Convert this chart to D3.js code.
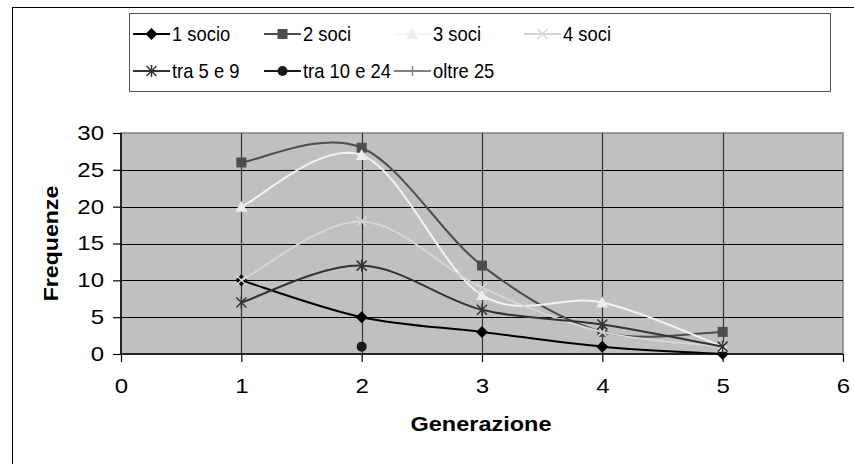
<!DOCTYPE html>
<html>
<head>
<meta charset="utf-8">
<script src="https://cdn.jsdelivr.net/npm/d3@7"></script>
<style>
  html, body { margin: 0; padding: 0; background: #fff; }
  svg { display: block; font-family: "Liberation Sans", Arial, sans-serif; }
</style>
</head>
<body>
<svg id="chart" width="854" height="464"></svg>
<script>
// Generazione (x) and frequency of firms by number of partners
const generazioni = [1, 2, 3, 4, 5];
const seriesNames = ["1 socio", "2 soci", "3 soci", "4 soci", "tra 5 e 9", "tra 10 e 24", "oltre 25"];
const socio1   = [10, 5, 3, 1, 0];
const soci2    = [26, 28, 12, 3, 3];
const soci3    = [20, 27, 8, 7, 1];
const soci4    = [10, 18, 9, 3, 1];
const tra5e9   = [7, 12, 6, 4, 1];
const tra10e24 = [null, 1, null, null, null];
const oltre25  = [null, null, null, null, null];
const xTicks = [0, 1, 2, 3, 4, 5, 6];
const yTicks = [0, 5, 10, 15, 20, 25, 30];

const seriesValues = [socio1, soci2, soci3, soci4, tra5e9, tra10e24, oltre25];
const seriesStyle = [
  { stroke: "#000000", marker: "diamond",  fill: "#000000" },
  { stroke: "#4d4d4d", marker: "square",   fill: "#4d4d4d" },
  { stroke: "#f2f2f2", marker: "triangle", fill: "#ececec" },
  { stroke: "#d6d6d6", marker: "cross",    fill: "#d6d6d6" },
  { stroke: "#333333", marker: "star",     fill: "#333333" },
  { stroke: "#1a1a1a", marker: "circle",   fill: "#1a1a1a" },
  { stroke: "#808080", marker: "plus",     fill: "#808080" }
];

const svg = d3.select("#chart");
const plot = { left: 121, right: 843, top: 133, bottom: 354 };

const x = d3.scaleLinear().domain([0, 6]).range([plot.left, plot.right]);
const y = d3.scaleLinear().domain([0, 30]).range([plot.bottom, plot.top]);

// Spreadsheet-style smoothing: cubic Bézier through every point, tangents from neighbours
function SmoothCurve(context) { this._context = context; }
SmoothCurve.prototype = {
  areaStart() {}, areaEnd() {},
  lineStart() { this._pts = []; },
  point(px, py) { this._pts.push([+px, +py]); },
  lineEnd() {
    const p = this._pts, n = p.length, c = this._context;
    if (!n) return;
    c.moveTo(p[0][0], p[0][1]);
    for (let i = 0; i < n - 1; i++) {
      const p0 = p[Math.max(i - 1, 0)], p1 = p[i], p2 = p[i + 1], p3 = p[Math.min(i + 2, n - 1)];
      c.bezierCurveTo(
        p1[0] + (p2[0] - p0[0]) / 6, p1[1] + (p2[1] - p0[1]) / 6,
        p2[0] - (p3[0] - p1[0]) / 6, p2[1] - (p3[1] - p1[1]) / 6,
        p2[0], p2[1]);
    }
  }
};
const curveSmooth = ctx => new SmoothCurve(ctx);

// Outer chart frame (right and bottom edges fall outside the view)
svg.append("rect")
  .attr("x", 12.5).attr("y", 7.5).attr("width", 900).attr("height", 500)
  .attr("fill", "#fff").attr("stroke", "#000").attr("stroke-width", 1);

// Plot background
svg.append("rect")
  .attr("x", plot.left).attr("y", plot.top)
  .attr("width", plot.right - plot.left).attr("height", plot.bottom - plot.top)
  .attr("fill", "#c0c0c0").attr("stroke", "#808080").attr("stroke-width", 1.5);

// Grid lines
svg.append("g").selectAll("line").data(yTicks.slice(1, -1)).join("line")
  .attr("x1", plot.left).attr("x2", plot.right)
  .attr("y1", d => Math.round(y(d)) + 0.5).attr("y2", d => Math.round(y(d)) + 0.5)
  .attr("stroke", "#000").attr("stroke-width", 1.2);
svg.append("g").selectAll("line").data(xTicks.slice(1, -1)).join("line")
  .attr("y1", plot.top).attr("y2", plot.bottom)
  .attr("x1", d => Math.round(x(d)) + 0.5).attr("x2", d => Math.round(x(d)) + 0.5)
  .attr("stroke", "#333").attr("stroke-width", 1.2);

// Axes
const xAxis = d3.axisBottom(x).tickValues(xTicks).tickFormat(d3.format("d")).tickSize(8).tickPadding(17);
const yAxis = d3.axisLeft(y).tickValues(yTicks).tickFormat(d3.format("d")).tickSize(8).tickPadding(9);

const gx = svg.append("g").attr("transform", `translate(0,${plot.bottom})`).call(xAxis);
const gy = svg.append("g").attr("transform", `translate(${plot.left},0)`).call(yAxis);
const tickScale = 1.2;
[gx, gy].forEach(g => {
  g.select(".domain").attr("stroke", "#000").attr("stroke-width", 1.5);
  g.selectAll(".tick line").attr("stroke", "#000").attr("stroke-width", 1.2);
  g.selectAll(".tick text").attr("fill", "#000")
    .style("font-size", "20px").style("font-family", "'Liberation Sans', Arial, sans-serif");
});
// widen the tick digits a little, keeping their anchor points
gy.selectAll(".tick text")
  .attr("x", function() { return +d3.select(this).attr("x") / tickScale; })
  .attr("transform", `scale(${tickScale},1)`);
gx.selectAll(".tick text").attr("transform", `scale(${tickScale},1)`);
gx.select(".domain").attr("d", `M${plot.left},0H${plot.right}`);
gy.select(".domain").attr("d", `M0,${plot.bottom}V${plot.top}`);

// Axis titles
svg.append("text")
  .attr("transform", `translate(${(plot.left + plot.right) / 2 - 1},431) scale(1.12,1)`)
  .attr("text-anchor", "middle").attr("font-weight", "bold").attr("font-size", 21)
  .text("Generazione");
svg.append("text")
  .attr("transform", `translate(58,${(plot.top + plot.bottom) / 2}) rotate(-90) scale(1.1,1)`)
  .attr("text-anchor", "middle").attr("font-weight", "bold").attr("font-size", 21)
  .text("Frequenze");

// Marker shapes
function drawMarker(g, type, cx, cy, st) {
  const s = 5;
  switch (type) {
    case "diamond":
      g.append("path").attr("d", `M${cx},${cy - s - 1}L${cx + s + 1},${cy}L${cx},${cy + s + 1}L${cx - s - 1},${cy}Z`).attr("fill", st.fill);
      break;
    case "square":
      g.append("rect").attr("x", cx - s).attr("y", cy - s).attr("width", 2 * s).attr("height", 2 * s).attr("fill", st.fill);
      break;
    case "triangle":
      g.append("path").attr("d", `M${cx},${cy - s - 1}L${cx + s + 1},${cy + s}L${cx - s - 1},${cy + s}Z`).attr("fill", st.fill);
      break;
    case "circle":
      g.append("circle").attr("cx", cx).attr("cy", cy).attr("r", s).attr("fill", st.fill);
      break;
    case "cross":
      g.append("path").attr("d", `M${cx - s},${cy - s}L${cx + s},${cy + s}M${cx + s},${cy - s}L${cx - s},${cy + s}`)
        .attr("stroke", st.stroke).attr("stroke-width", 1.5);
      break;
    case "star":
      g.append("path").attr("d", `M${cx - s},${cy - s}L${cx + s},${cy + s}M${cx + s},${cy - s}L${cx - s},${cy + s}M${cx},${cy - s - 1}V${cy + s + 1}`)
        .attr("stroke", st.stroke).attr("stroke-width", 1.5);
      break;
    case "plus":
      g.append("path").attr("d", `M${cx - s},${cy}H${cx + s}M${cx},${cy - s}V${cy + s}`)
        .attr("stroke", st.stroke).attr("stroke-width", 1.5);
      break;
  }
}

// Series: line then markers, one series at a time
const line = d3.line()
  .defined(d => d.v != null)
  .x(d => x(d.g)).y(d => y(d.v))
  .curve(curveSmooth);

seriesValues.forEach((vals, i) => {
  const st = seriesStyle[i];
  const pts = generazioni.map((g, j) => ({ g, v: vals[j] }));
  const g = svg.append("g");
  g.append("path").attr("d", line(pts))
    .attr("fill", "none").attr("stroke", st.stroke).attr("stroke-width", 2);
  pts.filter(d => d.v != null).forEach(d => drawMarker(g, st.marker, x(d.g), y(d.v), st));
});

// Legend
const legend = svg.append("g");
legend.append("rect")
  .attr("x", 129.5).attr("y", 13.5).attr("width", 701).attr("height", 78)
  .attr("fill", "#fff").attr("stroke", "#555").attr("stroke-width", 1);
const legendCols = [133, 264, 394, 524];
const legendRows = [34, 71];
seriesNames.forEach((name, i) => {
  const st = seriesStyle[i];
  const lx = legendCols[i % 4], ly = legendRows[Math.floor(i / 4)];
  const g = legend.append("g");
  g.append("line").attr("x1", lx).attr("x2", lx + 37).attr("y1", ly).attr("y2", ly)
    .attr("stroke", st.stroke).attr("stroke-width", 2);
  drawMarker(g, st.marker, lx + 18.5, ly, st);
  g.append("text")
    .attr("transform", `translate(${lx + 39},${ly + 7}) scale(0.92,1)`)
    .attr("font-size", 20).attr("fill", "#000").text(name);
});
</script>
</body>
</html>
